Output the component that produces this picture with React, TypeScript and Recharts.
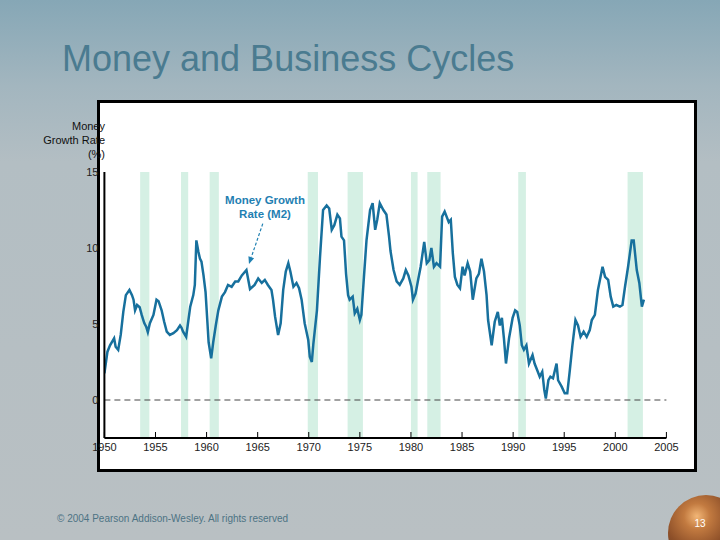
import React from 'react';
import { ComposedChart, Line, XAxis, YAxis, ReferenceArea, ReferenceLine } from 'recharts';

const years = [
  1950.0, 1950.3, 1950.55, 1950.95, 1951.1, 1951.35, 1951.6, 1951.85, 1952.1, 1952.45,
  1952.7, 1952.85, 1953.0, 1953.2, 1953.45, 1953.65, 1953.9, 1954.1, 1954.25, 1954.45,
  1954.8, 1955.1, 1955.3, 1955.6, 1955.85, 1956.1, 1956.4, 1956.75, 1957.1, 1957.4,
  1957.55, 1957.7, 1958.0, 1958.2, 1958.4, 1958.7, 1958.85, 1959.0, 1959.2, 1959.35,
  1959.5, 1959.7, 1959.9, 1960.1, 1960.2, 1960.45, 1960.65, 1960.9, 1961.15, 1961.5,
  1961.8, 1962.1, 1962.45, 1962.8, 1963.1, 1963.45, 1963.9, 1964.25, 1964.7, 1965.05,
  1965.4, 1965.7, 1966.0, 1966.35, 1966.5, 1966.7, 1967.0, 1967.25, 1967.5, 1967.75,
  1968.0, 1968.2, 1968.5, 1968.8, 1969.05, 1969.3, 1969.6, 1969.95, 1970.1, 1970.3,
  1970.45, 1970.8, 1971.1, 1971.4, 1971.75, 1972.0, 1972.25, 1972.5, 1972.8, 1973.05,
  1973.2, 1973.45, 1973.65, 1973.85, 1974.0, 1974.3, 1974.5, 1974.75, 1975.0, 1975.15,
  1975.4, 1975.65, 1976.0, 1976.25, 1976.5, 1976.7, 1976.95, 1977.3, 1977.6, 1977.85,
  1978.0, 1978.3, 1978.6, 1978.9, 1979.25, 1979.5, 1979.75, 1980.05, 1980.2, 1980.45,
  1980.7, 1980.95, 1981.3, 1981.55, 1981.8, 1982.0, 1982.25, 1982.5, 1982.85, 1983.05,
  1983.3, 1983.7, 1983.9, 1984.1, 1984.3, 1984.55, 1984.8, 1985.05, 1985.25, 1985.55,
  1985.8, 1986.05, 1986.4, 1986.65, 1986.9, 1987.15, 1987.4, 1987.55, 1987.9, 1988.2,
  1988.5, 1988.7, 1988.9, 1989.1, 1989.3, 1989.6, 1989.95, 1990.2, 1990.4, 1990.65,
  1990.85, 1991.05, 1991.3, 1991.55, 1991.9, 1992.1, 1992.35, 1992.6, 1992.85, 1993.05,
  1993.2, 1993.45, 1993.65, 1993.9, 1994.25, 1994.4, 1994.75, 1995.05, 1995.3, 1995.55,
  1995.8, 1996.1, 1996.35, 1996.6, 1996.9, 1997.2, 1997.5, 1997.7, 1998.0, 1998.3,
  1998.75, 1999.0, 1999.3, 1999.55, 1999.8, 2000.1, 2000.45, 2000.7, 2000.95, 2001.25,
  2001.6, 2001.8, 2002.1, 2002.35, 2002.6, 2002.8,
];

const m2Growth = [
  1.76, 3.18, 3.6, 4.06, 3.5, 3.3, 4.3, 5.8, 6.9, 7.24,
  6.9, 6.6, 5.9, 6.25, 6.1, 5.6, 5.06, 4.8, 4.47, 5.05,
  5.6, 6.6, 6.5, 5.9, 5.15, 4.5, 4.28, 4.4, 4.6, 4.9,
  4.75, 4.5, 4.16, 5.15, 6.14, 6.9, 7.57, 10.5, 9.75, 9.3,
  9.1, 8.2, 7.1, 4.9, 3.8, 2.74, 3.8, 4.9, 5.9, 6.8,
  7.1, 7.57, 7.45, 7.8, 7.8, 8.2, 8.55, 7.3, 7.57, 8.0,
  7.7, 7.9, 7.57, 7.24, 6.6, 5.5, 4.28, 5.05, 7.24, 8.45,
  9.0, 8.45, 7.45, 7.7, 7.35, 6.6, 5.05, 3.95, 2.85, 2.5,
  3.7, 5.9, 9.4, 12.5, 12.8, 12.6, 11.2, 11.5, 12.2, 11.95,
  10.75, 10.5, 8.3, 6.9, 6.6, 6.8, 5.7, 6.0, 5.26, 5.6,
  8.1, 10.5, 12.5, 12.95, 11.2, 11.85, 12.95, 12.5, 12.2, 10.8,
  9.8, 8.55, 7.8, 7.57, 8.0, 8.55, 8.2, 7.45, 6.6, 7.0,
  7.9, 8.77, 10.4, 9.0, 9.2, 10.0, 8.77, 9.0, 8.77, 12.06,
  12.4, 11.7, 11.85, 9.65, 8.1, 7.57, 7.35, 8.77, 8.2, 9.0,
  8.45, 6.6, 8.0, 8.3, 9.3, 8.45, 6.9, 5.26, 3.6, 5.15,
  5.8, 4.9, 5.4, 4.06, 2.4, 4.06, 5.4, 5.9, 5.8, 4.9,
  3.6, 3.3, 3.6, 2.4, 2.96, 2.4, 1.97, 1.53, 1.86, 0.66,
  0.1, 1.3, 1.53, 1.43, 2.4, 1.3, 0.88, 0.44, 0.44, 1.97,
  3.6, 5.26, 4.9, 4.16, 4.5, 4.16, 4.6, 5.26, 5.6, 7.24,
  8.77, 8.1, 7.9, 6.8, 6.14, 6.25, 6.14, 6.25, 7.45, 8.77,
  10.5, 10.5, 8.55, 7.7, 6.14, 6.6,
];

const recessionStarts = [1953.5, 1957.5, 1960.3, 1969.9, 1973.8, 1980.0, 1981.6, 1990.5, 2001.2];
const recessionEnds = [1954.4, 1958.2, 1961.2, 1970.9, 1975.3, 1980.65, 1982.9, 1991.25, 2002.7];

const xTicks = [1950, 1955, 1960, 1965, 1970, 1975, 1980, 1985, 1990, 1995, 2000, 2005];
const yTicks = [0, 5, 10, 15];

const arrowStart = { x: 1965.5, y: 11.6 };
const arrowEnd = { x: 1964.15, y: 8.95 };

const data = years.map((year, i) => ({ year, value: m2Growth[i] }));

const FONT = "'Liberation Sans', Arial, Helvetica, sans-serif";
const LINE_COLOR = '#17709d';
const ANNOT_COLOR = '#1f80b2';

const ArrowShape = (props: any) => {
  const { x1, y1, x2, y2 } = props;
  if ([x1, y1, x2, y2].some((v) => typeof v !== 'number' || isNaN(v))) return null;
  const ang = Math.atan2(y2 - y1, x2 - x1);
  const L = 7;
  const W = 3;
  const bx = x2 - L * Math.cos(ang);
  const by = y2 - L * Math.sin(ang);
  const p1x = bx + W * Math.sin(ang);
  const p1y = by - W * Math.cos(ang);
  const p2x = bx - W * Math.sin(ang);
  const p2y = by + W * Math.cos(ang);
  return (
    <g>
      <line x1={x1} y1={y1} x2={bx} y2={by} stroke={ANNOT_COLOR} strokeWidth={1.2} strokeDasharray="3 2" />
      <polygon points={`${x2},${y2} ${p1x},${p1y} ${p2x},${p2y}`} fill={ANNOT_COLOR} />
    </g>
  );
};

export default function App() {
  return (
    <div
      style={{
        position: 'fixed',
        left: 0,
        top: 0,
        width: 720,
        height: 540,
        overflow: 'hidden',
        background: 'linear-gradient(180deg, #86a7b6 0%, #a3b6bf 16%, #b3bec3 30%, #b9c0c3 100%)',
        fontFamily: FONT,
      }}
    >
      <div
        style={{
          position: 'absolute',
          left: 97,
          top: 100,
          width: 600,
          height: 372,
          boxSizing: 'border-box',
          border: '3px solid #000',
          background: '#fff',
        }}
      />
      <div
        style={{
          position: 'absolute',
          left: 668,
          top: 495,
          width: 76,
          height: 76,
          borderRadius: '50%',
          background:
            'radial-gradient(circle at 38% 28%, #f2b676 0%, #c27a40 18%, #8e5029 45%, #5a3320 75%, #3a2419 100%)',
        }}
      />
      <div style={{ position: 'absolute', left: 0, top: 0 }}>
        <ComposedChart
          width={720}
          height={540}
          data={data}
          margin={{ top: 172, right: 53.6, bottom: 72, left: 64.4 }}
        >
          {recessionStarts.map((s, i) => (
            <ReferenceArea
              key={i}
              x1={s}
              x2={recessionEnds[i]}
              y1={-2.5}
              y2={15}
              fill="#d5f0e4"
              fillOpacity={1}
              stroke="none"
              ifOverflow="visible"
            />
          ))}
          <XAxis
            dataKey="year"
            type="number"
            domain={[1950, 2005]}
            ticks={xTicks}
            interval={0}
            allowDataOverflow
            height={30}
            tickSize={-6}
            tickMargin={11}
            axisLine={{ stroke: '#000', strokeWidth: 2 }}
            tickLine={{ stroke: '#000', strokeWidth: 1 }}
            tick={{ fill: '#222', fontSize: 11, fontFamily: FONT }}
          />
          <YAxis
            type="number"
            domain={[-2.5, 15]}
            ticks={yTicks}
            interval={0}
            allowDataOverflow
            width={40}
            tickSize={0}
            tickMargin={6}
            tickLine={false}
            axisLine={{ stroke: '#000', strokeWidth: 2 }}
            tick={{ fill: '#222', fontSize: 11, fontFamily: FONT }}
          />
          <ReferenceLine y={0} stroke="#444" strokeWidth={1} strokeDasharray="6 4" />
          <Line
            type="linear"
            dataKey="value"
            stroke={LINE_COLOR}
            strokeWidth={2.5}
            dot={false}
            isAnimationActive={false}
          />
          <ReferenceLine segment={[arrowStart, arrowEnd]} shape={ArrowShape} ifOverflow="visible" />
        </ComposedChart>
      </div>
      <svg
        width={720}
        height={540}
        style={{ position: 'absolute', left: 0, top: 0, pointerEvents: 'none' }}
      >
        <text x={62} y={71} fontSize={36} fill="#4a7b90" fontFamily={FONT}>
          Money and Business Cycles
        </text>
        <text x={105} y={130} fontSize={11} fill="#111" textAnchor="end" fontFamily={FONT}>
          Money
        </text>
        <text x={105} y={144} fontSize={11} fill="#111" textAnchor="end" fontFamily={FONT}>
          Growth Rate
        </text>
        <text x={105} y={158} fontSize={11} fill="#111" textAnchor="end" fontFamily={FONT}>
          (%)
        </text>
        <text x={265} y={204} fontSize={11.5} fontWeight="bold" fill={ANNOT_COLOR} textAnchor="middle" fontFamily={FONT}>
          Money Growth
        </text>
        <text x={265} y={218} fontSize={11.5} fontWeight="bold" fill={ANNOT_COLOR} textAnchor="middle" fontFamily={FONT}>
          Rate (M2)
        </text>
        <text x={57} y={522} fontSize={10} fill="#4d7384" fontFamily={FONT}>
          © 2004 Pearson Addison-Wesley. All rights reserved
        </text>
        <text x={700} y={527} fontSize={10} fill="#fff" textAnchor="middle" fontFamily={FONT}>
          13
        </text>
      </svg>
    </div>
  );
}
